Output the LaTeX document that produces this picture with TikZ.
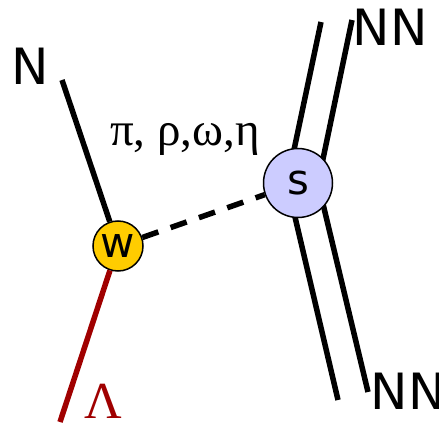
\documentclass[tikz,border=0pt]{standalone}
\usepackage{fontspec}
\setmainfont{DejaVu Sans}
\newfontfamily\grk{Liberation Serif}
\definecolor{lamred}{RGB}{160,0,0}
\definecolor{vtxyellow}{RGB}{255,204,0}
\definecolor{vtxblue}{RGB}{204,204,255}
\begin{document}
\begin{tikzpicture}[x=1pt,y=-1pt,
		leg/.style={line width=5.5pt},
		vertex/.style={circle,draw,line width=1.5pt,inner sep=0pt},
		lbl/.style={font=\fontsize{50}{50}\selectfont,inner sep=0pt}]
			\useasboundingbox (0,0) rectangle (439,425);
			% two-nucleon lines, drawn below the vertex
			\coordinate (a1) at (321,22);
			\coordinate (a2) at (287,183);
			\coordinate (a3) at (338,400);
			\coordinate (b1) at (352,20);
			\coordinate (b2) at (318,183);
			\coordinate (b3) at (368,392);
			\draw[leg] (a1) -- (a2) -- (a3);
			\draw[leg] (b1) -- (b2) -- (b3);
			\node[vertex,fill=vtxyellow,minimum size=50pt] (w) at (118,246) {\fontsize{42}{42}\selectfont w};
			\node[vertex,fill=vtxblue,minimum size=69pt] (s) at (298,183) {\fontsize{42}{42}\selectfont s};
			\node[lbl] (n) at (30,66) {N};
			\node[lbl] (nn1) at (390,27) {NN};
			\node[lbl] (nn2) at (408,391) {NN};
			\node[inner sep=0pt] (mes) at (185,139) {\grk\fontsize{47}{47}\selectfont π, ρ,ω,η};
			\node[inner sep=0pt,text=lamred] (lam) at (103,401) {\grk\fontsize{52}{52}\selectfont Λ};
			\coordinate (ntop) at (62,80);
			\coordinate (lbot) at (60,422);
			\draw[leg] (ntop) -- (w);
			\draw[leg,lamred] (w) -- (lbot);
			\draw[leg,dash pattern=on 17pt off 13pt] (w) -- (s);
		\end{tikzpicture}
\end{document}
